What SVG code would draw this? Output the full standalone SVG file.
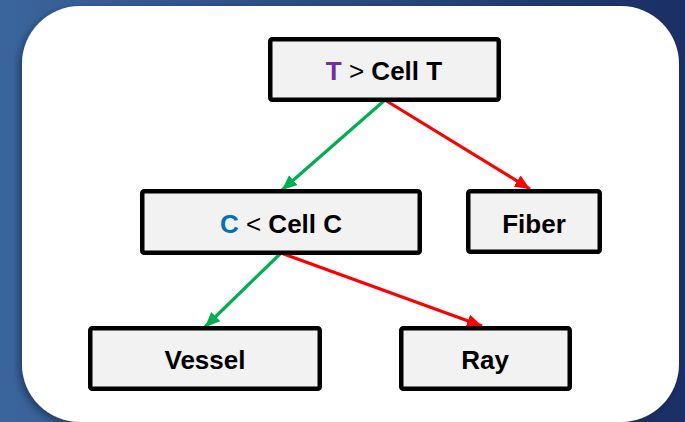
<svg xmlns="http://www.w3.org/2000/svg" width="685" height="422" viewBox="0 0 685 422">
  <defs>
    <linearGradient id="bg" x1="0" y1="0" x2="1" y2="0">
      <stop offset="0" stop-color="#3a659c"/>
      <stop offset="1" stop-color="#1b2e66"/>
    </linearGradient>
    <filter id="shadow" x="-10%" y="-10%" width="120%" height="120%">
      <feDropShadow dx="-3" dy="3" stdDeviation="3" flood-color="#0a1a3a" flood-opacity="0.55"/>
    </filter>
    <marker id="headGreen" markerUnits="userSpaceOnUse" markerWidth="16" markerHeight="16" viewBox="0 0 16 16" refX="15" refY="8" orient="auto">
      <path d="M0,1.5 L15,8 L0,14.5 Z" fill="#00b050"/>
    </marker>
    <marker id="headRed" markerUnits="userSpaceOnUse" markerWidth="16" markerHeight="16" viewBox="0 0 16 16" refX="15" refY="8" orient="auto">
      <path d="M0,1.5 L15,8 L0,14.5 Z" fill="#ff0000"/>
    </marker>
  </defs>
  <style>
    .box { fill: #f2f2f2; stroke: #000; stroke-width: 4.5; }
    .lbl { font-family: "Liberation Sans", Arial, sans-serif; font-size: 26px; font-weight: bold; fill: #000; text-anchor: middle; }
    .op { font-weight: normal; }
    .yes { stroke: #00b050; stroke-width: 3.2; fill: none; marker-end: url(#headGreen); }
    .no { stroke: #ff0000; stroke-width: 3.2; fill: none; marker-end: url(#headRed); }
  </style>

  <!-- slide background and card -->
  <rect x="0" y="0" width="685" height="422" fill="url(#bg)"/>
  <rect x="22" y="6" width="657" height="416" rx="58" ry="58" fill="#ffffff" filter="url(#shadow)"/>

  <!-- connectors -->
  <g id="connectors">
    <line class="yes" x1="385" y1="100" x2="282" y2="190"/>
    <line class="no" x1="385" y1="100" x2="530" y2="189"/>
    <line class="yes" x1="281" y1="253" x2="205" y2="327"/>
    <line class="no" x1="281" y1="253" x2="482" y2="326"/>
  </g>

  <!-- nodes -->
  <g id="node-cell-t">
    <rect class="box" x="270.25" y="39.25" width="228.5" height="60.5" rx="2"/>
    <text class="lbl" x="384" y="80"><tspan fill="#7030a0">T</tspan><tspan class="op"> &gt; </tspan>Cell T</text>
  </g>
  <g id="node-cell-c">
    <rect class="box" x="142.25" y="191.25" width="277.5" height="61.5" rx="2"/>
    <text class="lbl" x="281" y="233"><tspan fill="#0070c0">C</tspan><tspan class="op"> &lt; </tspan>Cell C</text>
  </g>
  <g id="node-fiber">
    <rect class="box" x="468.25" y="191.25" width="131.5" height="60.5" rx="2"/>
    <text class="lbl" x="534" y="233">Fiber</text>
  </g>
  <g id="node-vessel">
    <rect class="box" x="90.25" y="328.25" width="229.5" height="60.5" rx="2"/>
    <text class="lbl" x="205" y="369">Vessel</text>
  </g>
  <g id="node-ray">
    <rect class="box" x="401.25" y="328.25" width="168.5" height="60.5" rx="2"/>
    <text class="lbl" x="485" y="369">Ray</text>
  </g>
</svg>
